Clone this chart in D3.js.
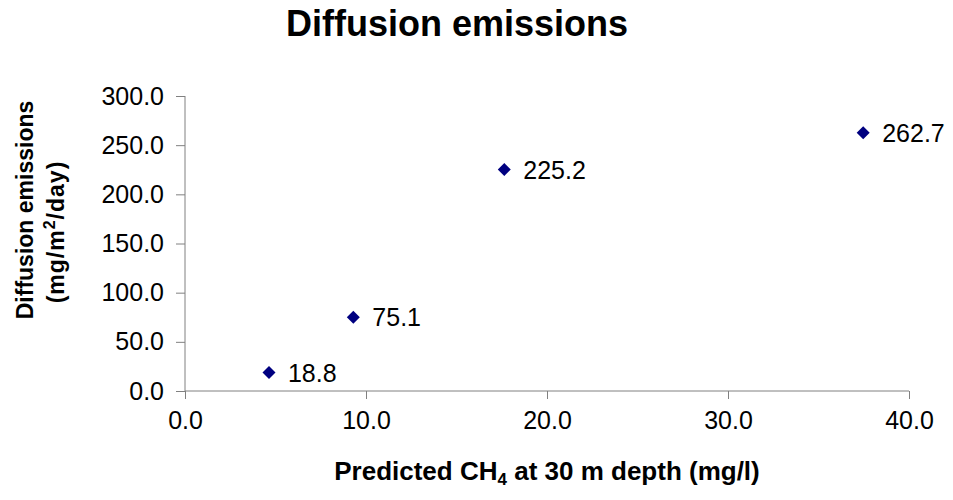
<!DOCTYPE html>
<html>
<head>
<meta charset="utf-8">
<script src="https://cdn.jsdelivr.net/npm/d3@7"></script>
<style>
  body { margin: 0; background: #fff; }
  text { font-family: "Liberation Sans", Arial, sans-serif; fill: #000; }
  .axis path, .axis line { stroke: #808080; }
</style>
</head>
<body>
<div id="chart"></div>
<script>
// Data
const ch4 = [4.64, 9.3, 17.64, 37.47];
const emissions = [18.8, 75.1, 225.2, 262.7];
const xTicks = [0, 10, 20, 30, 40];
const yTicks = [0, 50, 100, 150, 200, 250, 300];

const width = 953, height = 500;
const margin = { top: 96, right: 44, bottom: 109, left: 185 };
const chartWidth = width - margin.left - margin.right;
const chartHeight = height - margin.top - margin.bottom;

const svg = d3.select("#chart")
    .append("svg")
    .attr("width", width)
    .attr("height", height);

const g = svg.append("g")
    .attr("transform", `translate(${margin.left},${margin.top})`);

const x = d3.scaleLinear().domain([0, 40]).range([0, chartWidth]);
const y = d3.scaleLinear().domain([0, 300]).range([chartHeight, 0]);

// Title
svg.append("text")
    .attr("x", 457)
    .attr("y", 36)
    .attr("text-anchor", "middle")
    .style("font-size", "36px")
    .style("font-weight", "bold")
    .text("Diffusion emissions");

// Axes
const xAxis = g.append("g")
    .attr("class", "axis")
    .attr("transform", `translate(0,${chartHeight})`)
    .call(d3.axisBottom(x).tickValues(xTicks).tickFormat(d3.format(".1f")).tickSize(8).tickPadding(12));
xAxis.selectAll("text").style("font-size", "25px");
xAxis.select(".domain").attr("d", `M0,0H${chartWidth}`);

const yAxis = g.append("g")
    .attr("class", "axis")
    .call(d3.axisLeft(y).tickValues(yTicks).tickFormat(d3.format(".1f")).tickSize(9).tickPadding(12));
yAxis.selectAll("text").style("font-size", "25px");
yAxis.select(".domain").attr("d", `M0,0V${chartHeight}`);

// Points
const pts = ch4.map((v, i) => ({ x: v, y: emissions[i] }));
g.selectAll(".pt")
    .data(pts)
    .enter()
    .append("path")
    .attr("class", "pt")
    .attr("transform", d => `translate(${x(d.x)},${y(d.y)})`)
    .attr("d", "M0,-6.5L6.5,0L0,6.5L-6.5,0Z")
    .attr("fill", "#000080");

// Data labels
g.selectAll(".lbl")
    .data(pts)
    .enter()
    .append("text")
    .attr("x", d => x(d.x) + 19)
    .attr("y", d => y(d.y) + 9)
    .style("font-size", "25px")
    .text(d => d3.format(".1f")(d.y));

// X axis title
const xt = svg.append("text")
    .attr("x", margin.left + chartWidth / 2)
    .attr("y", 480)
    .attr("text-anchor", "middle")
    .style("font-size", "26px")
    .style("font-weight", "bold");
xt.append("tspan").text("Predicted CH");
xt.append("tspan").attr("dy", 5).style("font-size", "17px").text("4");
xt.append("tspan").attr("dy", -5).text(" at 30 m depth (mg/l)");

// Y axis title
svg.append("text")
    .attr("transform", "translate(33,210) rotate(-90)")
    .attr("text-anchor", "middle")
    .style("font-size", "23px")
    .style("font-weight", "bold")
    .text("Diffusion emissions");
const yt2 = svg.append("text")
    .attr("transform", "translate(64,232) rotate(-90)")
    .attr("text-anchor", "middle")
    .style("font-size", "23px")
    .style("font-weight", "bold")
    .style("letter-spacing", "1px");
yt2.append("tspan").text("(mg/m");
yt2.append("tspan").attr("dy", -9).style("font-size", "16px").text("2");
yt2.append("tspan").attr("dy", 9).text("/day)");
</script>
</body>
</html>
